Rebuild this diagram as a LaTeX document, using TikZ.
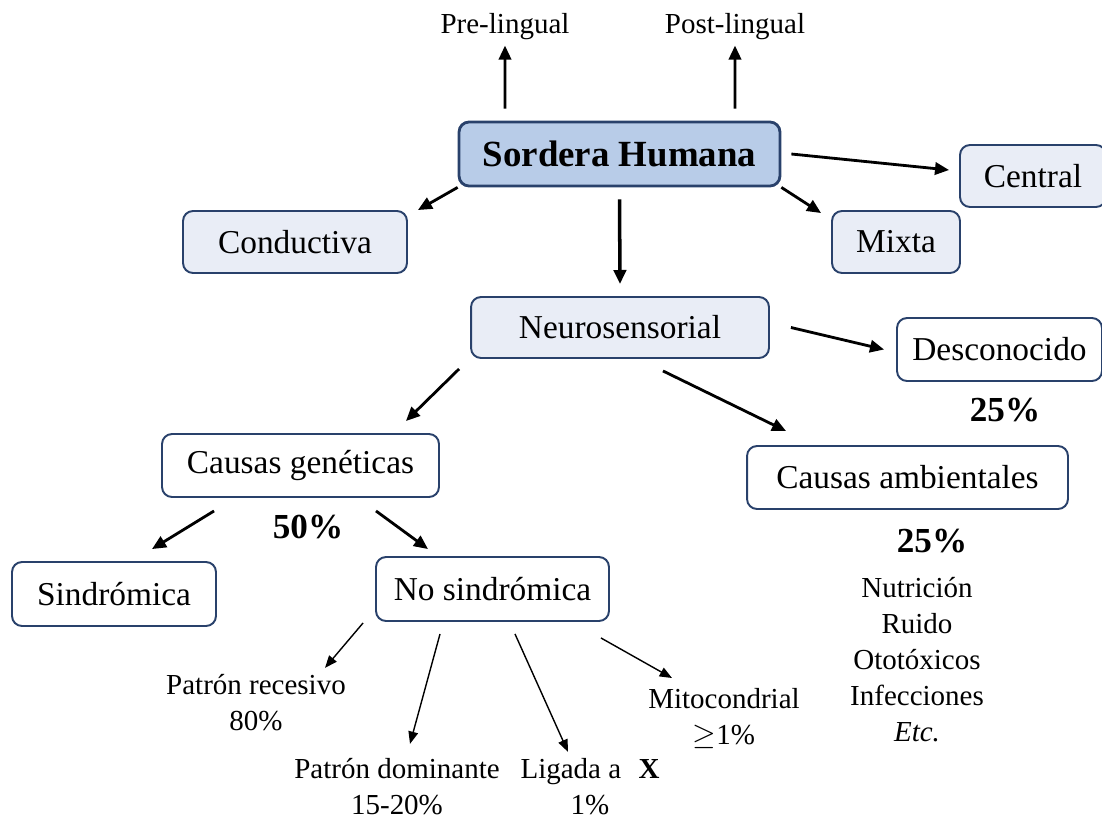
\documentclass[tikz,border=0pt]{standalone}
\usepackage{fontspec}
\setmainfont{Liberation Serif}
\usetikzlibrary{arrows.meta}
\definecolor{boxline}{RGB}{41,65,107}
\definecolor{boxfill}{RGB}{233,237,246}
\definecolor{topfill}{RGB}{184,204,232}

\begin{document}
\begin{tikzpicture}[x=0.02cm, y=-0.02cm,
	box/.style={draw=boxline, line width=1.1pt, rounded corners=0.2cm, fill=white,
		inner sep=0pt, font=\fontsize{19}{22}\selectfont},
	shaded/.style={box, fill=boxfill},
	lbl/.style={font=\fontsize{16.5}{20.5}\selectfont, align=center, inner sep=0pt},
	pct/.style={font=\bfseries\fontsize{20}{24}\selectfont, inner sep=0pt},
	arr/.style={-{Triangle[length=8pt,width=7pt]}, line width=1.6pt},
	thinarr/.style={-{Triangle[length=7pt,width=5.5pt]}, line width=0.8pt}]

	\clip (0,0) rectangle (1102,821);

	% main node
	\node[box, fill=topfill, line width=1.6pt, minimum width=6.42cm, minimum height=1.28cm,
		font=\bfseries\fontsize{21}{24}\selectfont] (sordera) at (619.5,154) {Sordera Humana};
	\node[lbl] (prelingual) at (505,27) {Pre-lingual};
	\node[lbl] (postlingual) at (735,27) {Post-lingual};

	\node[shaded, minimum width=4.48cm, minimum height=1.24cm] (conductiva) at (295,242) {Conductiva};
	\node[shaded, minimum width=2.92cm, minimum height=1.24cm] (central) at (1033,176) {Central};
	\node[shaded, minimum width=2.56cm, minimum height=1.24cm] (mixta) at (896,242) {Mixta};
	\node[shaded, minimum width=5.96cm, minimum height=1.22cm] (neuro) at (620,327.5) {Neurosensorial};

	% causes
	\node[box, minimum width=4.1cm, minimum height=1.26cm] (desconocido) at (999.5,349.5) {Desconocido};
	\node[box, minimum width=5.54cm, minimum height=1.26cm] (geneticas) at (300.5,465.5) {Causas genéticas};
	\node[box, minimum width=6.42cm, minimum height=1.26cm] (ambientales) at (907.5,477.5) {Causas ambientales};
	\node[pct] (pctdesc) at (1005,410) {25\%};
	\node[pct] (pctgen) at (308,527) {50\%};
	\node[pct] (pctamb) at (932,541) {25\%};

	\node[box, minimum width=4.08cm, minimum height=1.28cm] (sindromica) at (114,594) {Sindrómica};
	\node[box, minimum width=4.66cm, minimum height=1.28cm] (nosindromica) at (492.5,589) {No sindrómica};

	% patterns
	\node[lbl] (recesivo) at (256,702.5) {Patrón recesivo\\80\%};
	\node[lbl] (dominante) at (397,786.5) {Patrón dominante\\15-20\%};
	\node[lbl] (ligada) at (590,786.5) {Ligada a\hspace{0.6em}\textbf{X}\\1\%};
	\node[lbl] (mito) at (724,718.5) {Mitocondrial\\$\geq$1\%};
	\node[lbl] (factores) at (917,660) {Nutrición\\Ruido\\Ototóxicos\\Infecciones\\\textit{Etc.}};

	% arrows
	\draw[arr] ([xshift=-2.29cm,yshift=0.24cm]sordera.north) -- ([yshift=-0.1cm]prelingual.south);
	\draw[arr] ([xshift=2.31cm,yshift=0.24cm]sordera.north) -- ([yshift=-0.1cm]postlingual.south);
	\draw[arr] (sordera.south west) -- ([xshift=0.2cm]conductiva.north east);
	\draw[arr] ([xshift=0.2cm]sordera.east) -- ([xshift=-0.2cm,yshift=0.12cm]central.west);
	\draw[arr] (sordera.south east) -- ([xshift=-0.2cm,yshift=-0.06cm]mixta.north west);
	\draw[arr, line width=2pt] ([yshift=-0.24cm]sordera.south) -- ([yshift=0.24cm]neuro.north);

	\draw[arr] ([xshift=0.42cm]neuro.east) -- ([xshift=-0.24cm]desconocido.west);
	\draw[arr] ([xshift=-0.22cm,yshift=-0.2cm]neuro.south west) -- ([xshift=-0.68cm,yshift=0.24cm]geneticas.north east);
	\draw[arr] ([xshift=0.86cm,yshift=-0.24cm]neuro.south) -- ([xshift=0.8cm,yshift=0.28cm]ambientales.north west);

	\draw[arr] ([xshift=1.06cm,yshift=-0.26cm]geneticas.south west) -- ([xshift=0.76cm,yshift=0.24cm]sindromica.north);
	\draw[arr] ([xshift=1.51cm,yshift=-0.26cm]geneticas.south) -- ([xshift=-1.29cm,yshift=0.14cm]nosindromica.north);

	\draw[thinarr] ([xshift=-0.24cm,yshift=-0.02cm]nosindromica.south west) -- ([xshift=1.38cm,yshift=0.12cm]recesivo.north);
	\draw[thinarr] ([xshift=-1.05cm,yshift=-0.24cm]nosindromica.south) -- ([xshift=0.26cm,yshift=0.28cm]dominante.north);
	\draw[thinarr] ([xshift=0.45cm,yshift=-0.24cm]nosindromica.south) -- ([xshift=-0.44cm,yshift=0.12cm]ligada.north);
	\draw[thinarr] ([xshift=-0.18cm,yshift=-0.32cm]nosindromica.south east) -- ([xshift=-1.04cm,yshift=0.2cm]mito.north);

\end{tikzpicture}
\end{document}
